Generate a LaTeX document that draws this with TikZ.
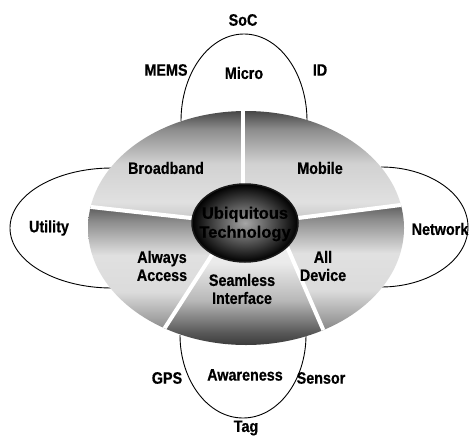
\documentclass[tikz,border=0pt]{standalone}
\usepackage{fontspec}
\setmainfont[FakeStretch=0.87, BoldFeatures={FakeBold=0.6}]{Liberation Sans}
\newfontfamily\innerfont[BoldFeatures={FakeBold=0.6}]{Liberation Sans}
\pgfdeclareverticalshading{topshade}{100bp}{color(0bp)=(black!25); color(25bp)=(black!25); color(35bp)=(black!12); color(52bp)=(black!18); color(67bp)=(black!45); color(75bp)=(black!72); color(100bp)=(black!72)}
\pgfdeclareverticalshading{lowshade}{100bp}{color(0bp)=(black!70); color(25bp)=(black!70); color(32.5bp)=(black!45); color(45bp)=(black!14); color(57.5bp)=(black!12); color(69bp)=(black!45); color(75bp)=(black!68); color(100bp)=(black!68)}
\pgfdeclareverticalshading{botshade}{100bp}{color(0bp)=(black!82); color(25bp)=(black!82); color(32.5bp)=(black!65); color(45bp)=(black!28); color(60bp)=(black!8); color(75bp)=(black!6); color(100bp)=(black!6)}
\begin{document}
\begin{tikzpicture}[x=1pt,y=-1pt,
  lbl/.style={font=\fontsize{16.5}{18}\selectfont\bfseries, align=center, inner sep=0pt, text=black},
  innerlbl/.style={font=\innerfont\fontsize{16.5}{19}\selectfont\bfseries, align=center, inner sep=0pt, text=black},
  loopline/.style={draw=black, line width=0.9pt},
  divider/.style={draw=white, line width=4pt},
]
\useasboundingbox (0,0) rectangle (470,441);
\fill[white] (0,0) rectangle (470,441);

% outer loops
\coordinate (topL) at (181,121);
\coordinate (botL) at (180,335);
\coordinate (leftT) at (112,168);
\coordinate (rightT) at (381,167);
\draw[loopline] (topL) arc[start angle=180, end angle=360, x radius=63, y radius=87];
\draw[loopline] (botL) arc[start angle=180, end angle=0, x radius=63, y radius=83];
\draw[loopline] (leftT) arc[start angle=270, end angle=90, x radius=102, y radius=60];
\draw[loopline] (rightT) arc[start angle=-90, end angle=90, x radius=87, y radius=60];

% big ellipse with sectors
\coordinate (C) at (245,225);
\coordinate (tS) at (243,223); \coordinate (tE) at (243,95);
\coordinate (lS) at (200,219); \coordinate (lE) at (60,203.6);
\coordinate (rS) at (290,219); \coordinate (rE) at (430,201.3);
\coordinate (blS) at (215,250); \coordinate (blE) at (150,351);
\coordinate (brS) at (282,235); \coordinate (brE) at (332,350);
\begin{scope}
  \clip (246,228) ellipse[x radius=158, y radius=117];
  \shade[shading=topshade]
    (60,111) -- (430,111) -- (rE) -- (rS) -- (C) -- (lS) -- (lE) -- cycle;
  \shade[shading=lowshade]
    (lE) -- (lS) -- (C) -- (blS) -- (blE) -- (60,345) -- cycle;
  \shade[shading=lowshade]
    (rE) -- (rS) -- (C) -- (brS) -- (brE) -- (430,345) -- cycle;
  \shade[shading=botshade]
    (C) -- (blS) -- (blE) -- (brE) -- (brS) -- cycle;
  \draw[divider] (tS) -- (tE);
  \draw[divider] (lS) -- (lE);
  \draw[divider] (rS) -- (rE);
  \draw[divider] (blS) -- (blE);
  \draw[divider] (brS) -- (brE);
\end{scope}

% inner ellipse
\shade[inner color=black!35, outer color=black, draw=black!90, line width=1.5pt]
  (245,223) ellipse[x radius=53, y radius=39];
\node[innerlbl] (ubi) at (245,224) {Ubiquitous\\Technology};

% labels
\node[lbl] (soc) at (243,20) {SoC};
\node[lbl] (mems) at (166,70) {MEMS};
\node[lbl] (micro) at (244,73) {Micro};
\node[lbl] (id) at (320,70) {ID};
\node[lbl] (broad) at (166,168) {Broadband};
\node[lbl] (mobile) at (320,168) {Mobile};
\node[lbl] (utility) at (49,228) {Utility};
\node[lbl] (network) at (440,229) {Network};
\node[lbl] (always) at (162,266) {Always\\Access};
\node[lbl] (seam) at (242,289) {Seamless\\Interface};
\node[lbl] (alldev) at (323,266) {All\\Device};
\node[lbl] (gps) at (167,378) {GPS};
\node[lbl] (aware) at (245,375) {Awareness};
\node[lbl] (sensor) at (321,378) {Sensor};
\node[lbl] (tag) at (246,428) {Tag};
\end{tikzpicture}
\end{document}
